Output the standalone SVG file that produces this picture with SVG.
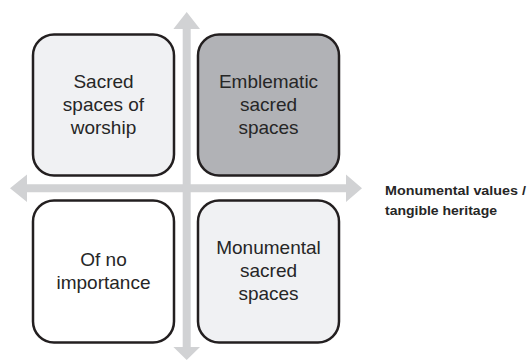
<svg xmlns="http://www.w3.org/2000/svg" width="528" height="360" viewBox="0 0 528 360">
  <style>
    .box { stroke: #231f20; stroke-width: 2.5; }
    .light { fill: #f0f1f3; }
    .dark { fill: #b1b2b6; }
    .plain { fill: #ffffff; }
    .axis { fill: #d1d2d4; }
    .lbl { font-family: "Liberation Sans", Arial, sans-serif; font-size: 19px; fill: #262626; text-anchor: middle; }
    .axlbl { font-family: "Liberation Sans", Arial, sans-serif; font-size: 13px; font-weight: bold; fill: #262626; }
  </style>
  <rect width="528" height="360" fill="#ffffff"/>

  <!-- axes -->
  <g id="connectors">
    <polygon class="axis" points="10,188.3 27,174.5 27,184.3 346,184.3 346,174.5 362,188.3 346,202 346,192.3 27,192.3 27,202"/>
    <polygon class="axis" points="186.7,12 200,29 190.7,29 190.7,347 200,347 186.7,360 173.4,347 182.7,347 182.7,29 173.4,29"/>
  </g>

  <g id="worship">
    <rect class="box light" x="33" y="34.5" width="141" height="141" rx="21"/>
    <text class="lbl" x="103.5" y="88">Sacred</text>
    <text class="lbl" x="103.5" y="111">spaces of</text>
    <text class="lbl" x="103.5" y="134">worship</text>
  </g>

  <g id="emblematic">
    <rect class="box dark" x="198" y="34.5" width="141" height="141" rx="21"/>
    <text class="lbl" x="268.5" y="88">Emblematic</text>
    <text class="lbl" x="268.5" y="111">sacred</text>
    <text class="lbl" x="268.5" y="134">spaces</text>
  </g>

  <g id="no-importance">
    <rect class="box plain" x="33" y="200.5" width="141" height="142" rx="21"/>
    <text class="lbl" x="103.5" y="266">Of no</text>
    <text class="lbl" x="103.5" y="289">importance</text>
  </g>

  <g id="monumental">
    <rect class="box light" x="198" y="200.5" width="141" height="142" rx="21"/>
    <text class="lbl" x="268.5" y="254">Monumental</text>
    <text class="lbl" x="268.5" y="277">sacred</text>
    <text class="lbl" x="268.5" y="300">spaces</text>
  </g>

  <g id="axis-label">
    <text class="axlbl" x="385" y="195" textLength="141" lengthAdjust="spacingAndGlyphs">Monumental values /</text>
    <text class="axlbl" x="385" y="215" textLength="112" lengthAdjust="spacingAndGlyphs">tangible heritage</text>
  </g>
</svg>
